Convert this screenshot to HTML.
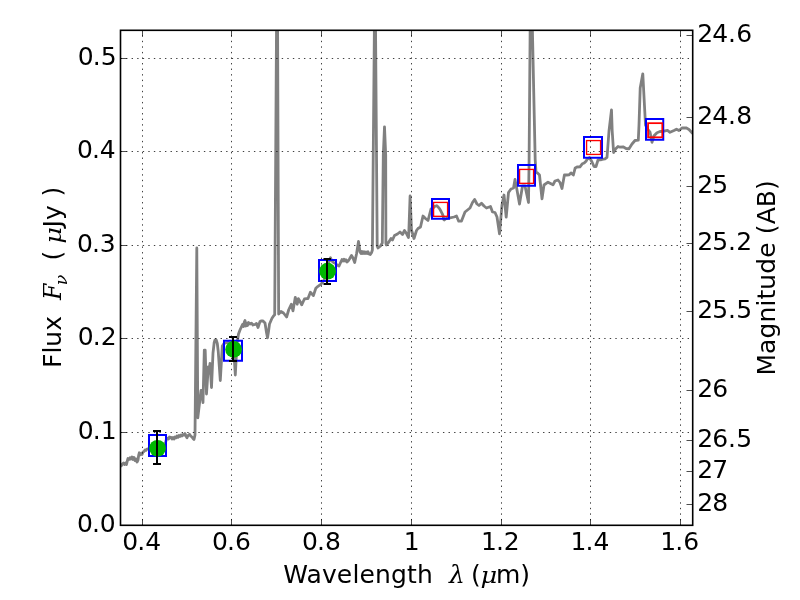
<!DOCTYPE html>
<html><head><meta charset="utf-8"><title>SED plot</title>
<style>html,body{margin:0;padding:0;background:#fff;overflow:hidden}svg{display:block}text{font-family:"DejaVu Sans","Liberation Sans",sans-serif;font-size:25px;fill:#000}.m{font-family:"DejaVu Serif","Liberation Serif",serif;font-style:italic}</style></head><body>
<svg width="800" height="600" viewBox="0 0 800 600">
<rect x="0" y="0" width="800" height="600" fill="#fff"/>
<defs><clipPath id="ax"><rect x="120.5" y="30.3" width="572.2" height="495"/></clipPath></defs>
<g clip-path="url(#ax)">
<polyline points="120.5,466.5 121.5,465.5 122.5,463.8 123.5,463 124.5,464.5 125.5,463 126.5,464.5 127.3,461 128,458.5 129,459.5 130,457.8 131,459 132,457 133,459.5 134,457.5 135,460.5 136,459 137,462 138,460 138.7,455 139.3,452.8 140,455 141,453.5 142,454.5 143,452 144,451.5 145,450 146,450.3 147,449 148,448.8 152,448.5 157,447.5 162,446.5 164.8,445.5 166.3,439.5 167.5,438.3 168.5,439 169.5,437 171,437.3 172,439 173,437.5 174,439 175,437 176,437.8 177,436 178,437.3 179,435.5 180,436.5 181,435 182,436 183,434.5 184,435 185,433.6 186,436 187,437.8 188,435.5 189.5,434.3 190.5,435.8 192,437 193,438.5 194,439.5 195,435 196.8,248 197.8,417.8 201,390.5 201.8,390.5 203,402.5 204.3,350.2 205.2,350.2 206.5,394 208.3,367 209,373 210,363.5 211.5,387.5 213,353 214.2,342.5 215,340 216.2,340 217.3,343.5 218.2,351 220.3,380.5 222.3,346 224,343.5 228,342.5 231,343.5 233.5,346 235.3,375 237,343 238.5,334 240,330 242.5,324.5 243.5,326.5 244.3,322 245,320.5 245.8,326 246.5,323 247.5,325.5 248.5,322.5 250,324 251.5,323.2 253,325 255,324.5 256.5,323.5 258,327.5 260,321.5 261.5,320.8 263,321 265,323 266.5,332.5 267.5,337.8 268.5,331.5 269.5,324 272,318.3 273.5,316 274.7,314.8 277.2,-82 278.65,314 281,311.5 283.5,313 286.6,317 288.8,309.5 291.3,304.3 293,310.8 295.3,297.3 297.2,304.2 298.4,298.6 299.5,300.5 301.7,304.8 304.4,299 306.5,298.6 308,298.6 310.4,292.2 313.4,295.6 315.8,288.3 318,286.3 321,284.2 324,280 327,270 329,261.5 330.5,257.8 331.8,261 333.5,262.5 335.5,263.5 337,265 339,266 342,259.5 343,261 344,259.3 345,261 346,259.8 347,262 348,261.2 349.5,259 351.5,255.5 353,258 354.7,262.5 356.5,254 358.5,241.5 360,252 361,253.5 362,251.5 363,253.5 364,251.8 365,253.6 366,252 367,253.5 368,251.8 369,254 370.3,254.6 371.6,252.5 372.4,250 374.9,-30 375.1,-30 377.2,246 378,248 380.5,246 382.3,243 383.3,155 384.5,126.8 385.7,155 385.9,243 386.3,245 388.5,242.5 391,238.5 392.5,240 394.5,235.5 397.5,234 400,232 402.5,234.5 404.5,230.5 406.5,233.5 408.5,237.5 408.9,230 410.1,196 411.5,230 414,238.5 416.5,230.5 418,228.5 420.5,227 423,216 425.5,218.5 428,220.5 431,209 433.5,207.6 435,206.3 436.6,205.7 438,206.8 439.5,208.6 441,211.3 442.2,213.6 443.2,216 443.7,219.4 444.3,220 445.5,218.8 447,218.3 450,217.8 454,217 456.5,216 458.7,221.2 461.5,221 465,212 467.5,210 470,208 472.5,202.5 474.6,199.5 477,204 479,205.5 481.5,203.2 484,206 486.5,208 490.5,206.5 492.5,212 495,212.5 497,217 499.5,233.8 502,205 504,195 506.2,217 508.5,192.5 511,189 513.5,188 515,179.5 517,190 519.5,204 522.5,186 525,186 528.5,202.5 529.1,160 530.75,-47 535.2,160 536,172 537.5,173 539.5,175 542,198.8 544,185 548,182.2 550.5,183.5 553,184.8 555,181 558,180 560,182.5 562,188.5 564.4,174.9 566.8,175 569.2,174.8 571,172.9 573.4,175 575.2,167.9 577,167 580,166.8 582.4,163.7 584.2,163 586,161.2 587,159.5 589.5,157.5 592,162 594,166.5 596,166.5 598,160 602,159.5 605,158.8 607,157.3 607.6,150 609,131 611.5,110 612.2,131 613.6,152.5 615.5,149 618,146.5 620,147.2 623,146.8 626,148.5 629,148.8 632,144 635,140.5 638.3,140.2 639,125 640.2,88 642.8,73.8 645.5,125 648,129.5 650,132 652,142.3 654,135.8 657,132.7 660,131.5 664,131.2 667.5,130.3 670,132.3 674,130.5 676.5,129.2 679,130.5 682,128 686,127.8 689,129.5 692.7,133.5" fill="none" stroke="#808080" stroke-width="2.8" stroke-linejoin="round" stroke-linecap="butt"/>
</g>
<g fill="none" stroke="#0000ff" stroke-width="2">
<rect x="149" y="435" width="17" height="21"/>
<rect x="224" y="340.75" width="18" height="20"/>
<rect x="319" y="260" width="17" height="21"/>
<rect x="432" y="199" width="17" height="19.75"/>
<rect x="518" y="165" width="17" height="20.75"/>
<rect x="584" y="137" width="18" height="20.75"/>
<rect x="646" y="119" width="17.25" height="20.75"/>
</g>
<g fill="none" stroke="#ff0000" stroke-width="1.35">
<rect x="433.575" y="202.425" width="14" height="13.9" stroke-width="1.35"/>
<rect x="519.575" y="169.425" width="14" height="13.9" stroke-width="1.35"/>
<rect x="586.575" y="140.575" width="14" height="13.85" stroke-width="1.35"/>
<rect x="648.075" y="123.175" width="14.2" height="14.1" stroke-width="1.75"/>
</g>
<g stroke="#000" stroke-width="0.75" stroke-dasharray="1.39 4.17" fill="none">
<line x1="142.5" y1="525.3" x2="142.5" y2="30.3" stroke-dashoffset="0.6"/>
<line x1="231.5" y1="525.3" x2="231.5" y2="30.3" stroke-dashoffset="0.6"/>
<line x1="321.5" y1="525.3" x2="321.5" y2="30.3" stroke-dashoffset="0.6"/>
<line x1="411.5" y1="525.3" x2="411.5" y2="30.3" stroke-dashoffset="0.6"/>
<line x1="501.5" y1="525.3" x2="501.5" y2="30.3" stroke-dashoffset="0.6"/>
<line x1="590.5" y1="525.3" x2="590.5" y2="30.3" stroke-dashoffset="0.6"/>
<line x1="680.5" y1="525.3" x2="680.5" y2="30.3" stroke-dashoffset="0.6"/>
<line x1="120.5" y1="432.5" x2="692.7" y2="432.5"/>
<line x1="120.5" y1="338.5" x2="692.7" y2="338.5"/>
<line x1="120.5" y1="245.5" x2="692.7" y2="245.5"/>
<line x1="120.5" y1="151.5" x2="692.7" y2="151.5"/>
<line x1="120.5" y1="58.5" x2="692.7" y2="58.5"/>
</g>
<circle cx="157.55" cy="448.3" r="8.4" fill="#00b800"/>
<circle cx="233.6" cy="349.4" r="8.4" fill="#00b800"/>
<circle cx="327.55" cy="271.2" r="8.4" fill="#00b800"/>
<path d="M157 431V464M153 431H161M153 464H161" stroke="#000" stroke-width="2" fill="none"/>
<path d="M233 336.9V361.1M229 336.9H237M229 361.1H237" stroke="#000" stroke-width="2" fill="none"/>
<path d="M327 258.9V284M323.5 258.9H331M323.5 284H331" stroke="#000" stroke-width="2" fill="none"/>
<g stroke="#000" stroke-width="0.7" fill="none">
<line x1="142.5" y1="525.3" x2="142.5" y2="519.1"/>
<line x1="142.5" y1="30.3" x2="142.5" y2="36.5"/>
<line x1="231.5" y1="525.3" x2="231.5" y2="519.1"/>
<line x1="231.5" y1="30.3" x2="231.5" y2="36.5"/>
<line x1="321.5" y1="525.3" x2="321.5" y2="519.1"/>
<line x1="321.5" y1="30.3" x2="321.5" y2="36.5"/>
<line x1="411.5" y1="525.3" x2="411.5" y2="519.1"/>
<line x1="411.5" y1="30.3" x2="411.5" y2="36.5"/>
<line x1="501.5" y1="525.3" x2="501.5" y2="519.1"/>
<line x1="501.5" y1="30.3" x2="501.5" y2="36.5"/>
<line x1="590.5" y1="525.3" x2="590.5" y2="519.1"/>
<line x1="590.5" y1="30.3" x2="590.5" y2="36.5"/>
<line x1="680.5" y1="525.3" x2="680.5" y2="519.1"/>
<line x1="680.5" y1="30.3" x2="680.5" y2="36.5"/>
<line x1="120.5" y1="525.5" x2="126.7" y2="525.5"/>
<line x1="120.5" y1="432.5" x2="126.7" y2="432.5"/>
<line x1="120.5" y1="338.5" x2="126.7" y2="338.5"/>
<line x1="120.5" y1="245.5" x2="126.7" y2="245.5"/>
<line x1="120.5" y1="151.5" x2="126.7" y2="151.5"/>
<line x1="120.5" y1="58.5" x2="126.7" y2="58.5"/>
<line x1="692.7" y1="35.5" x2="686.5" y2="35.5"/>
<line x1="692.7" y1="117.5" x2="686.5" y2="117.5"/>
<line x1="692.7" y1="186.5" x2="686.5" y2="186.5"/>
<line x1="692.7" y1="243.5" x2="686.5" y2="243.5"/>
<line x1="692.7" y1="311.5" x2="686.5" y2="311.5"/>
<line x1="692.7" y1="390.5" x2="686.5" y2="390.5"/>
<line x1="692.7" y1="440.5" x2="686.5" y2="440.5"/>
<line x1="692.7" y1="471.5" x2="686.5" y2="471.5"/>
<line x1="692.7" y1="504.5" x2="686.5" y2="504.5"/>
</g>
<rect x="120.5" y="30.3" width="572.2" height="495" fill="none" stroke="#000" stroke-width="1.6"/>
<text x="141.7" y="549.6" text-anchor="middle" dx="0 -0.9 0">0.4</text>
<text x="231.36" y="549.6" text-anchor="middle" dx="0 -0.9 0">0.6</text>
<text x="321.42" y="549.6" text-anchor="middle" dx="0 -0.9 0">0.8</text>
<text x="411.58" y="549.6" text-anchor="middle" dx="0">1</text>
<text x="500.34" y="549.6" text-anchor="middle" dx="0 -0.9 0">1.2</text>
<text x="590" y="549.6" text-anchor="middle" dx="0 -0.9 0">1.4</text>
<text x="679.66" y="549.6" text-anchor="middle" dx="0 -0.9 0">1.6</text>
<text x="115.75" y="532" text-anchor="end" dx="0 -0.9 0">0.0</text>
<text x="116.6" y="438.6" text-anchor="end" dx="0 -0.9 0">0.1</text>
<text x="116.6" y="345.2" text-anchor="end" dx="0 -0.9 0">0.2</text>
<text x="115.75" y="251.8" text-anchor="end" dx="0 -0.9 0">0.3</text>
<text x="115.75" y="158.4" text-anchor="end" dx="0 -0.9 0">0.4</text>
<text x="116.6" y="65" text-anchor="end" dx="0 -0.9 0">0.5</text>
<text x="697.3" y="41.8298" dx="0 -0.9 -0.3 0.3">24.6</text>
<text x="697.3" y="124.294" dx="0 -0.9 -0.3 0.3">24.8</text>
<text x="697.3" y="192.885" dx="0 -0.9">25</text>
<text x="697.3" y="249.937" dx="0 -0.9 -0.3 0.3">25.2</text>
<text x="697.3" y="318.033" dx="0 -0.9 -0.3 0.3">25.5</text>
<text x="697.3" y="396.996" dx="0 -0.9">26</text>
<text x="697.3" y="446.818" dx="0 -0.9 -0.3 0.3">26.5</text>
<text x="697.3" y="478.254" dx="0 -0.9">27</text>
<text x="697.3" y="510.603" dx="0 -0.9">28</text>
<text x="283.2" y="582.7" letter-spacing="0.15">Wavelength</text>
<text x="449" y="582.7" class="m">λ</text>
<text x="471" y="582.7">(</text>
<text transform="translate(480.6,582.7) scale(1.2,1)" class="m" style="font-size:21.5px">μ</text>
<text x="496" y="582.7">m)</text>
<g transform="translate(60.8,368) rotate(-90)">
<text x="0" y="0">Flux</text>
<text x="68" y="0" class="m" style="font-size:23.5px">F</text>
<text x="82.8" y="6" class="m" style="font-size:17.5px">ν</text>
<text x="107.4" y="0">(</text>
<text transform="translate(124.2,0) scale(1.2,1)" class="m" style="font-size:21.5px">μ</text>
<text x="140.6" y="0">Jy</text>
<text x="171.5" y="0">)</text>
</g>
<text transform="translate(775,375.6) rotate(-90)" letter-spacing="0.1">Magnitude (AB)</text>
</svg></body></html>
